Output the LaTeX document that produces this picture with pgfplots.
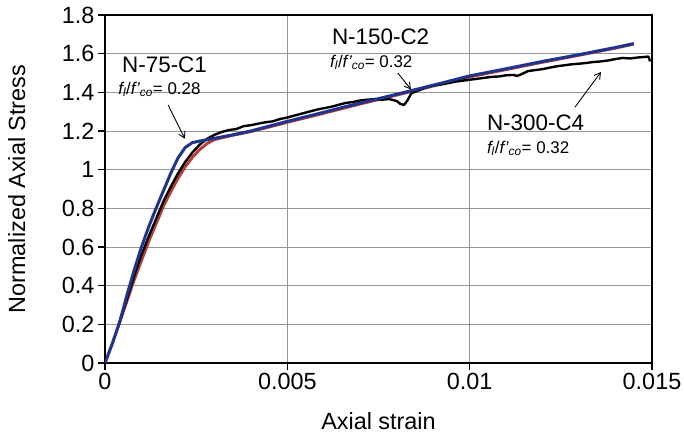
\documentclass[border=0pt]{standalone}
\usepackage{fontspec}
\setmainfont{Liberation Sans}
\usepackage{pgfplots}
\pgfplotsset{compat=1.18}
\usetikzlibrary{arrows.meta}
\definecolor{cblue}{RGB}{31,52,140}
\definecolor{cred}{RGB}{180,62,56}
\definecolor{cgrid}{RGB}{150,150,150}
\newcommand{\fr}{{\itshape f}\textsubscript{\itshape l}/{\itshape f'}\textsubscript{\itshape co}}
\newcommand{\bigf}{\fontsize{22.5}{26}\selectfont}
\newcommand{\smallf}{\fontsize{17}{20}\selectfont}

\pgfplotstableread{
x y
0.00036 0.19
0.0005 0.265
0.0006 0.32
0.0008 0.43
0.001 0.53
0.0012 0.63
0.0014 0.72
0.0016 0.81
0.0018 0.885
0.002 0.955
0.0022 1.015
0.0024 1.065
0.0026 1.105
0.0028 1.135
0.003 1.156
0.0035 1.178
0.004 1.197
0.005 1.245
0.006 1.292
0.007 1.34
0.008 1.386
0.009 1.433
0.01 1.48
0.011 1.518
0.012 1.556
0.013 1.592
0.014 1.629
0.0145 1.65
}\redtab

\pgfplotstableread{
x y
0 0
0.0002 0.1
0.0004 0.21
0.0006 0.33
0.0008 0.45
0.001 0.56
0.0012 0.655
0.0014 0.745
0.0016 0.835
0.0018 0.91
0.002 0.98
0.0022 1.04
0.0024 1.09
0.0026 1.13
0.0028 1.16
0.003 1.18
0.0032 1.195
0.0034 1.205
0.0036 1.21
0.0038 1.225
0.004 1.23
0.0042 1.238
0.0044 1.245
0.0046 1.25
0.0048 1.262
0.005 1.27
0.0052 1.28
0.0054 1.29
0.0056 1.30
0.0058 1.31
0.006 1.318
0.0062 1.325
0.0064 1.335
0.0066 1.345
0.0068 1.35
0.007 1.358
0.0072 1.362
0.0074 1.365
0.0076 1.362
0.0078 1.365
0.008 1.355
0.0081 1.34
0.0082 1.335
0.0083 1.36
0.0084 1.395
0.0086 1.41
0.0088 1.425
0.009 1.435
0.0092 1.44
0.0094 1.447
0.0096 1.455
0.0098 1.46
0.01 1.465
0.0102 1.47
0.0104 1.475
0.0106 1.48
0.0108 1.482
0.011 1.488
0.0112 1.49
0.0113 1.485
0.0114 1.492
0.0116 1.51
0.0118 1.515
0.012 1.52
0.0122 1.528
0.0124 1.535
0.0126 1.54
0.0128 1.545
0.013 1.548
0.0132 1.552
0.0134 1.557
0.0136 1.56
0.0138 1.565
0.014 1.572
0.0142 1.578
0.0144 1.575
0.0146 1.58
0.0148 1.583
0.0149 1.585
0.01495 1.56
}\blacktab

\pgfplotstableread{
x y
0 0
0.0002 0.1
0.0004 0.21
0.0006 0.35
0.0008 0.48
0.001 0.6
0.0012 0.705
0.0014 0.80
0.0016 0.89
0.0018 0.98
0.002 1.06
0.0022 1.115
0.0024 1.14
0.0026 1.148
0.0028 1.155
0.003 1.162
0.0035 1.18
0.004 1.20
0.0045 1.225
0.005 1.25
0.006 1.297
0.007 1.345
0.008 1.39
0.009 1.437
0.01 1.485
0.011 1.522
0.012 1.56
0.013 1.595
0.014 1.632
0.0145 1.652
}\bluetab

\begin{document}
\begin{tikzpicture}
\path[use as bounding box] (-105bp,-80bp) rectangle (579bp,363bp);
\begin{axis}[
  at={(0,0)}, anchor=south west,
  scale only axis, width=547bp, height=348bp,
  xmin=0, xmax=0.015, ymin=0, ymax=1.8,
  xtick={0,0.005,0.01,0.015}, xticklabels={0,0.005,0.01,0.015},
  ytick={0,0.2,0.4,0.6,0.8,1,1.2,1.4,1.6,1.8},
  yticklabels={0,0.2,0.4,0.6,0.8,1,1.2,1.4,1.6,1.8},
  scaled x ticks=false, scaled y ticks=false,
  tick align=outside, tick pos=left, major tick length=7bp,
  grid=major, grid style={cgrid, line width=0.8pt},
  axis line style={line width=1.3pt},
  every tick/.style={black, line width=1.3pt},
  tick label style={font=\fontsize{23.5}{27}\selectfont},
  label style={font=\fontsize{23.5}{27}\selectfont},
  xlabel={Axial strain}, ylabel={Normalized Axial Stress},
  xlabel style={at={(axis description cs:0.5,-0.1925)}, anchor=base},
  ylabel style={at={(axis description cs:-0.146,0.5)}, anchor=base},
]
\addplot[cred, line width=3pt, line join=round] table[x=x,y=y] {\redtab};
\addplot[black, line width=2.4pt, line join=round] table[x=x,y=y] {\blacktab};
\addplot[cblue, line width=3pt, line join=round] table[x=x,y=y] {\bluetab};

\node[anchor=base west, inner sep=0pt, font=\bigf] at (axis cs:0.000466,1.505) {N-75-C1};
\node[anchor=base west, inner sep=0pt, font=\smallf] at (axis cs:0.00036,1.39) {\fr= 0.28};
\draw[line width=0.9pt, -{Straight Barb[length=6bp,width=7bp]}] (axis cs:0.00173,1.335) -- (axis cs:0.00219,1.16);

\node[anchor=base west, inner sep=0pt, font=\bigf] at (axis cs:0.00622,1.645) {N-150-C2};
\node[anchor=base west, inner sep=0pt, font=\smallf] at (axis cs:0.00617,1.531) {\fr= 0.32};
\draw[line width=0.9pt, -{Straight Barb[length=6bp,width=7bp]}] (axis cs:0.00803,1.50) -- (axis cs:0.00839,1.415);

\node[anchor=base west, inner sep=0pt, font=\bigf] at (axis cs:0.01047,1.205) {N-300-C4};
\node[anchor=base west, inner sep=0pt, font=\smallf] at (axis cs:0.01047,1.086) {\fr= 0.32};
\draw[line width=0.9pt, -{Straight Barb[length=6bp,width=7bp]}] (axis cs:0.01289,1.324) -- (axis cs:0.0136,1.505);
\end{axis}
\end{tikzpicture}
\end{document}
